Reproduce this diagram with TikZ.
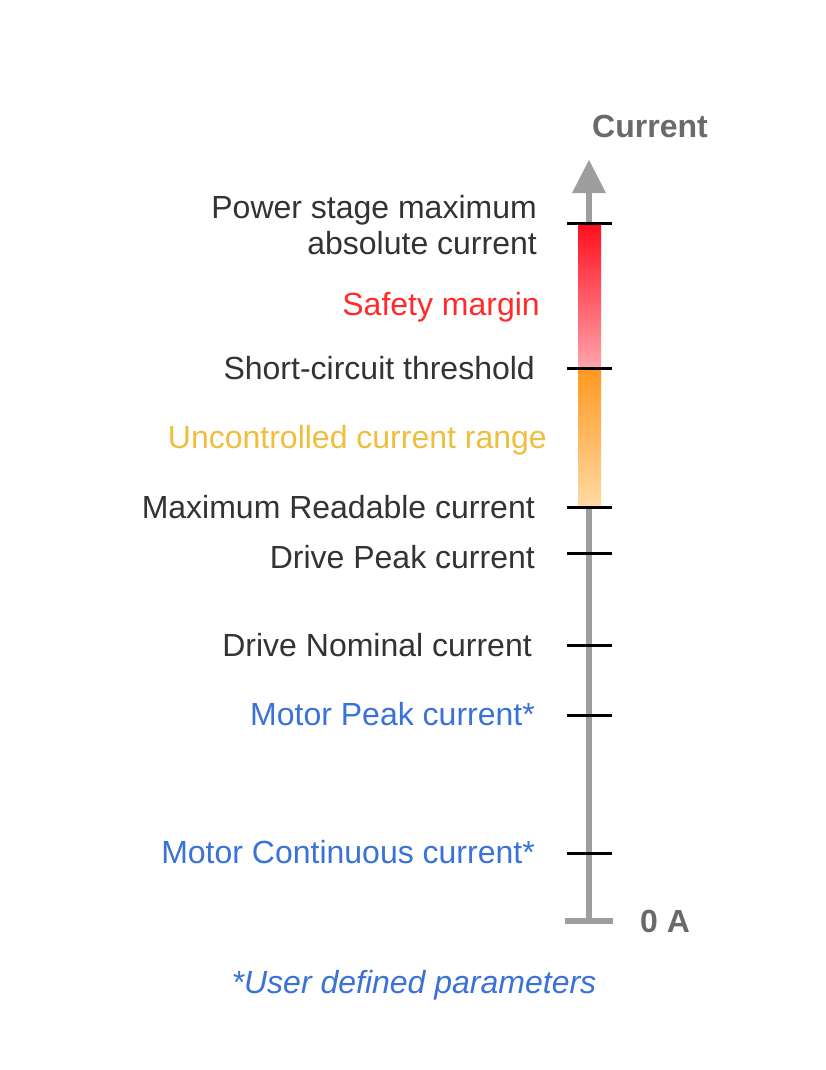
\documentclass[tikz,border=0pt]{standalone}
\usepackage{fontspec}
\setmainfont{Liberation Sans}
\usetikzlibrary{arrows.meta}
\definecolor{txt}{HTML}{333333}
\definecolor{redtxt}{HTML}{FF2A2A}
\definecolor{yeltxt}{HTML}{EFBE3C}
\definecolor{bluetxt}{HTML}{3A72D8}
\definecolor{axisgray}{HTML}{9E9E9E}
\definecolor{headgray}{HTML}{6A6A6A}
\tikzset{
  lbl/.style={anchor=base east, inner sep=0pt, font=\fontsize{32}{38}\selectfont, text=txt},
  tickmark/.style={draw=black, line width=3pt},
  axisline/.style={draw=axisgray, line width=6pt},
  headlbl/.style={anchor=base west, inner sep=0pt, font=\fontsize{32}{38}\selectfont\bfseries, text=headgray}
}
\begin{document}
\begin{tikzpicture}[x=1pt,y=-1pt]
\useasboundingbox[fill=white] (0,0) rectangle (826,1070);
% axis
\coordinate (top) at (589,192);
\coordinate (bot) at (589,921);
\coordinate (botL) at (565,921);
\coordinate (botR) at (613,921);
\draw[axisline] (bot) -- (top);
\draw[axisline] (botL) -- (botR);
\fill[axisgray] (572,193) -- (589,160) -- (606,193) -- cycle;
% gradient bars
\shade[top color={rgb,255:red,255;green,16;blue,32}, bottom color={rgb,255:red,255;green,164;blue,172}] (578,225) rectangle (601,368);
\shade[top color={rgb,255:red,255;green,152;blue,32}, bottom color={rgb,255:red,255;green,218;blue,164}] (578,368) rectangle (601,507);
% ticks
\foreach \n/\y in {t1/223,t2/368,t3/507,t4/553,t5/645,t6/715,t7/853}{
  \coordinate (\n L) at (567,\y);
  \coordinate (\n R) at (612,\y);
  \draw[tickmark] (\n L) -- (\n R);
}
% labels
\node[headlbl] (cur) at (592,138) {Current};
\node[headlbl] (zero) at (640,932) {0 A};
\node[lbl] (l1a) at (537,218) {Power stage maximum};
\node[lbl] (l1b) at (537,254) {absolute current};
\node[lbl, text=redtxt] (l2) at (540,315) {Safety margin};
\node[lbl] (l3) at (535,379) {Short-circuit threshold};
\node[lbl, text=yeltxt] (l4) at (547,448) {Uncontrolled current range};
\node[lbl] (l5) at (535,518) {Maximum Readable current};
\node[lbl] (l6) at (535,568) {Drive Peak current};
\node[lbl] (l7) at (532,656) {Drive Nominal current};
\node[lbl, text=bluetxt] (l8) at (535,725) {Motor Peak current*};
\node[lbl, text=bluetxt] (l9) at (535,863) {Motor Continuous current*};
\node[lbl, text=bluetxt, anchor=base, font=\fontsize{32}{38}\selectfont\itshape] (note) at (414,993) {*User defined parameters};
\end{tikzpicture}
\end{document}
